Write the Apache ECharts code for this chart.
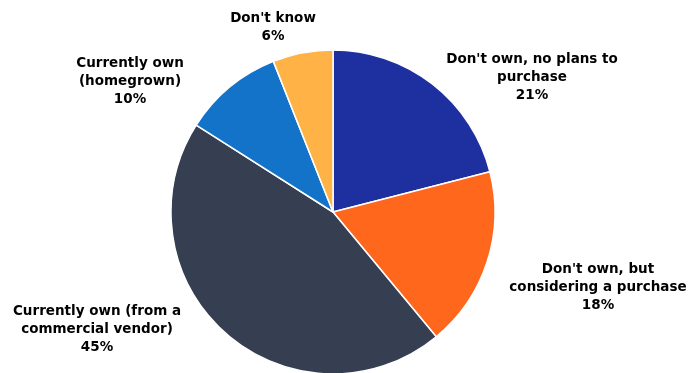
<!DOCTYPE html>
<html>
<head>
<meta charset="utf-8">
<script src="https://cdn.jsdelivr.net/npm/echarts@6/dist/echarts.min.js"></script>
<style>
html, body { margin: 0; padding: 0; background: #fff; }
#main { width: 689px; height: 373px; }
</style>
</head>
<body>
<div id="main"></div>
<script>
// slices, clockwise from 12 o'clock
var categories = [
	"Don't own, no plans to\npurchase",
	"Don't own, but\nconsidering a purchase",
	"Currently own (from a\ncommercial vendor)",
	"Currently own\n(homegrown)",
	"Don't know"
];
var shares = [21, 18, 45, 10, 6];
var colors = ['#1e30a0', '#ff671d', '#353f51', '#1273c9', '#ffb347'];

// label centres (layout only)
var labelCenters = [[532, 77], [598, 287], [97, 329], [130, 81], [273, 27]];

var chart = echarts.init(document.getElementById('main'));

var pieData = [];
for (var i = 0; i < categories.length; i++) {
	pieData.push({ value: shares[i], name: categories[i], itemStyle: { color: colors[i] } });
}

var option = {
	animation: false,
	series: [
		{
			type: 'pie',
			center: [333, 212],
			radius: 162,
			startAngle: 90,
			clockwise: true,
			data: pieData,
			itemStyle: { borderColor: '#fff', borderWidth: 1.5 },
			label: {
				show: true,
				position: 'outside',
				formatter: '{b}\n{c}%',
				fontFamily: 'DejaVu Sans',
				fontWeight: 'bold',
				fontSize: 13.5,
				lineHeight: 18,
				color: '#000',
				align: 'center',
				overflow: 'none',
				edgeDistance: 0
			},
			labelLine: { show: false },
			labelLayout: function (params) {
				var c = labelCenters[params.dataIndex];
				return {
					x: c[0],
					y: c[1],
					align: 'center',
					verticalAlign: 'middle'
				};
			},
			emphasis: { disabled: true }
		}
	]
};

chart.setOption(option);
</script>
</body>
</html>
